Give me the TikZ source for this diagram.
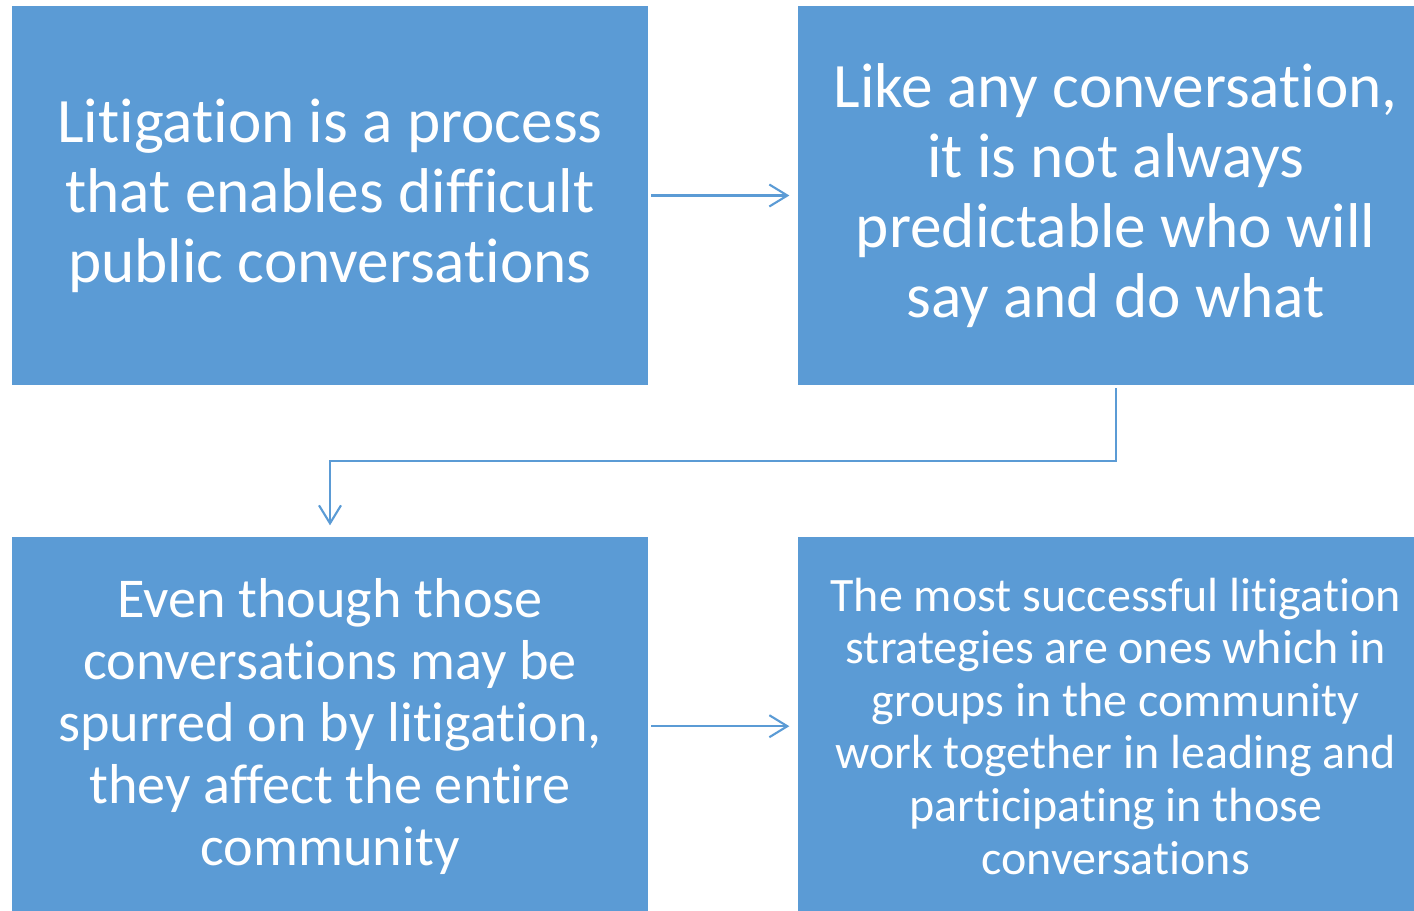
\documentclass[tikz,border=0pt]{standalone}
\usepackage{fontspec}
\setmainfont{Carlito}[Ligatures=NoCommon]
\usetikzlibrary{positioning,arrows.meta}
\definecolor{boxblue}{HTML}{5B9BD5}

\begin{document}
\begin{tikzpicture}[
			stepbox/.style={rectangle, fill=boxblue, text=white, align=center, inner sep=0pt, minimum width=12.72cm, minimum height=7.58cm},
			flow/.style={draw=boxblue, line width=1.2pt, -{Straight Barb[length=0.36cm, width=0.44cm]}},
			node distance=3.02cm and 2.98cm,
			]
			\clip (0,0) rectangle (28.28,-18.2);
			%Nodes
			\node[stepbox, font=\fontsize{36}{39.8}\selectfont] (talk) at (6.6,-3.91)
				{Litigation is a process\\that enables difficult\\public conversations};
			\node[stepbox, font=\fontsize{36}{39.8}\selectfont] (unpredictable) [right=of talk]
				{Like any conversation,\\it is not always\\predictable who will\\say and do what};
			\node[stepbox, font=\fontsize{32}{35.3}\selectfont] (community) [below=of talk]
				{Even though those\\conversations may be\\spurred on by litigation,\\they affect the entire\\community};
			\node[stepbox, font=\fontsize{27.3}{29.9}\selectfont] (groups) [below=of unpredictable]
				{The most successful litigation\\strategies are ones which in\\groups in the community\\work together in leading and\\participating in those\\conversations};

			%Arrows
			\draw[flow, shorten <=0.06cm, shorten >=0.16cm] (talk) -- (unpredictable);
			\draw[flow, shorten <=0.06cm, shorten >=0.22cm] (unpredictable.south) -- ++(0,-1.51) -| (community.north);
			\draw[flow, shorten <=0.06cm, shorten >=0.16cm] (community) -- (groups);
		\end{tikzpicture}
\end{document}
